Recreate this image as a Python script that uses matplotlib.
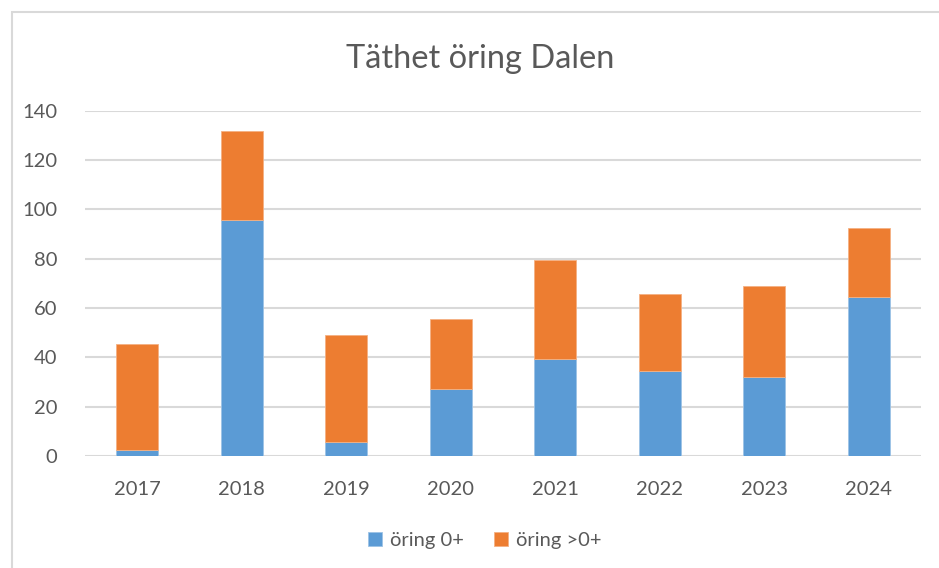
import numpy as np
import matplotlib.pyplot as plt
from matplotlib.patches import Rectangle

years = ['2017', '2018', '2019', '2020', '2021', '2022', '2023', '2024']
oring_0 = [2.4, 95.9, 5.9, 27.3, 39.5, 34.3, 31.9, 64.3]
oring_over_0 = [43.0, 35.9, 43.0, 28.4, 40.0, 31.6, 36.9, 28.0]

blue = '#5B9BD5'
orange = '#ED7D31'
grid_col = '#D9D9D9'
text_col = '#595959'

plt.rcParams['font.family'] = ['Lato', 'DejaVu Sans']

fig = plt.figure(figsize=(9.39, 5.68), dpi=100)
ax = fig.add_axes([0.0905, 0.197, 0.8905, 0.608])

x = np.arange(len(years))
ax.bar(x, oring_0, width=0.4, color=blue, edgecolor='#9DC3E6', linewidth=0.6,
       label='öring 0+', zorder=3)
ax.bar(x, oring_over_0, width=0.4, bottom=oring_0, color=orange,
       edgecolor='#F4B183', linewidth=0.6, label='öring >0+', zorder=3)

ax.set_xlim(-0.5, len(years) - 0.5)
ax.set_ylim(0, 140)
ax.set_yticks(range(0, 141, 20))
ax.set_xticks(x)
ax.set_xticklabels(years)
ax.grid(axis='y', color=grid_col, linewidth=1.5, zorder=0)
for s in ax.spines.values():
    s.set_visible(False)
ax.tick_params(length=0, labelsize=14.5, colors=text_col)
ax.tick_params(axis='y', pad=20)
ax.tick_params(axis='x', pad=18)

fig.text(0.511, 0.896, 'Täthet öring Dalen', ha='center', va='center',
         fontsize=23.5, color=text_col)

leg = fig.legend(loc='center', bbox_to_anchor=(0.516, 0.049), ncol=2, frameon=False,
                 fontsize=14.5, handlelength=0.7, handleheight=0.7,
                 handletextpad=0.4, columnspacing=1.5)
for t in leg.get_texts():
    t.set_color(text_col)

# chart frame like the spreadsheet chart area
fig.patches.append(Rectangle((12 / 939, -0.1), 1.2, 1.1 - 12 / 568,
                             transform=fig.transFigure, fill=False,
                             edgecolor=grid_col, linewidth=1.5))

fig.savefig('out.png', dpi=100)
